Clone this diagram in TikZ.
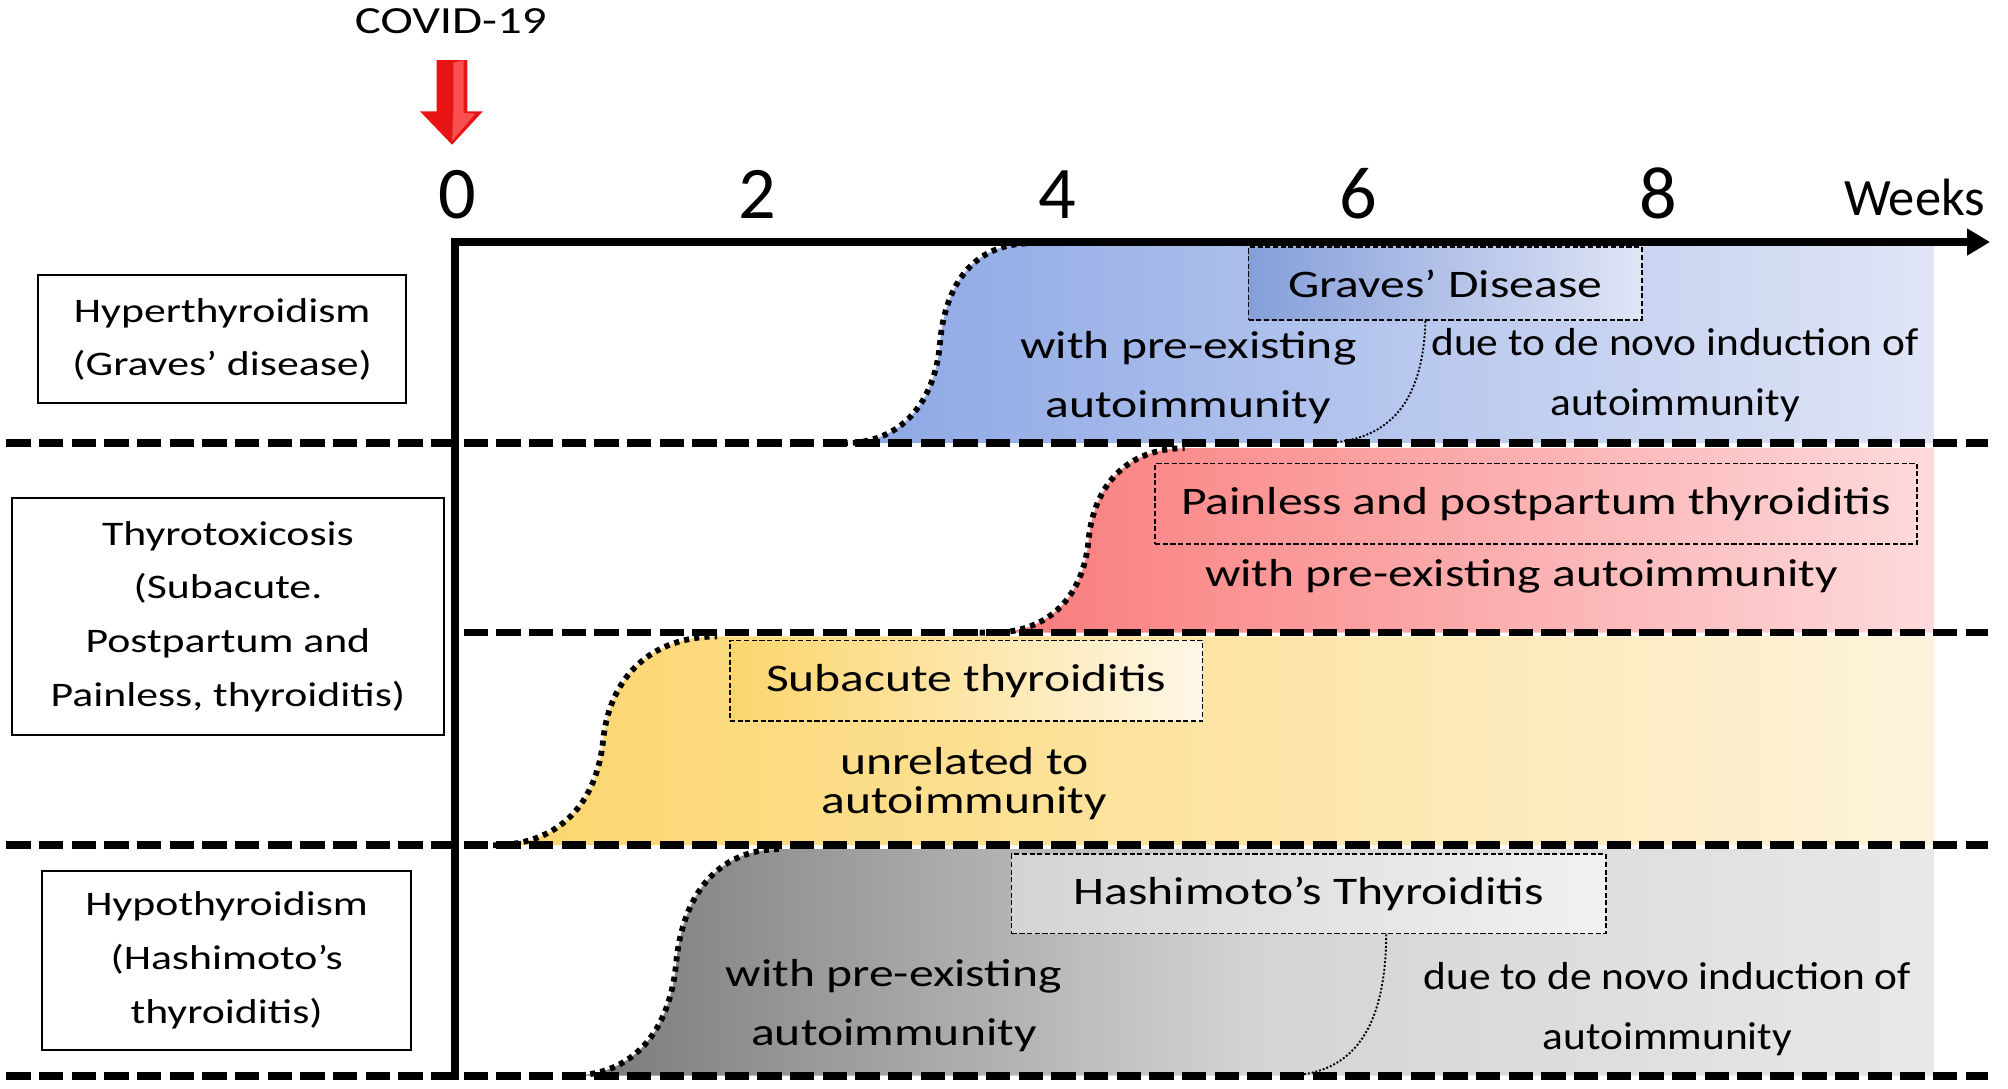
\documentclass[tikz,border=0pt]{standalone}
\usepackage{fontspec}
\setmainfont{Carlito}
\newfontfamily\wide[FakeStretch=1.27]{Carlito}
\newfontfamily\narrow[FakeStretch=1.11]{Carlito}
\usetikzlibrary{arrows.meta,calc}

\definecolor{bluel}{RGB}{140,167,229}\definecolor{bluer}{RGB}{224,229,246}
\definecolor{redl}{RGB}{250,122,122}\definecolor{redr}{RGB}{253,218,220}
\definecolor{yell}{RGB}{252,213,108}\definecolor{yelr}{RGB}{253,243,220}
\definecolor{grayl}{RGB}{122,119,119}\definecolor{graym}{RGB}{212,212,212}\definecolor{grayr}{RGB}{232,232,232}
\definecolor{covidred}{RGB}{232,20,20}\definecolor{covidlight}{RGB}{248,80,80}

\begin{document}
\begin{tikzpicture}[x=1pt,y=-1pt,
  sepline/.style={line width=6pt,dash pattern=on 19pt off 6.5pt},
  onset/.style={line width=4.5pt,dash pattern=on 4pt off 4pt},
  split/.style={line width=1.5pt,dash pattern=on 1.5pt off 1.5pt},
  catbox/.style={draw,line width=1.6pt,align=center,inner sep=0pt,font=\wide\fontsize{26.9}{42}\selectfont},
  typebox/.style={draw,line width=1.2pt,dash pattern=on 4pt off 2pt,inner sep=0pt,font=\wide\fontsize{30.5}{36}\selectfont},
  note/.style={align=center,inner sep=0pt,font=\wide\fontsize{30.5}{46}\selectfont},
  novo/.style={align=center,inner sep=0pt,font=\narrow\fontsize{30.5}{47}\selectfont},
  weeklbl/.style={anchor=base,inner sep=0pt,font=\fontsize{58}{60}\selectfont}]
\useasboundingbox(0,0)rectangle(1568,850);

% coloured onsets
\shade[left color=bluel,right color=bluer](660,346)..controls(703,346)and(730,315)..(734,268)..controls(738,221)and(761,190)..(805,190)--(1510,190)--(1510,346)--cycle;
\shade[left color=redl,right color=redr](775,494)..controls(820,494)and(846,465)..(850,422)..controls(854,379)and(880,350)..(925,350)--(1510,350)--(1510,494)--cycle;
\shade[left color=yell,right color=yelr](385,660)..controls(437,660)and(466,627)..(471,578)..controls(476,529)and(508,497)..(560,497)--(1510,497)--(1510,660)--cycle;
\shade[left color=grayl,right color=grayr,middle color=graym](445,840)..controls(495,840)and(523,805)..(528,752)..controls(533,699)and(560,663)..(610,663)--(1510,663)--(1510,840)--cycle;

\draw[sepline](5,346)--(1552,346);\draw[sepline](362,494)--(1552,494);
\draw[sepline](5,660)--(1552,660);\draw[sepline](5,840)--(1552,840);

\draw[line width=6pt,-{Triangle[length=18pt,width=20pt]}](355.5,843)--(355.5,189)--(1554,189);

\draw[onset](650,346)--(660,346)..controls(703,346)and(730,315)..(734,268)..controls(738,221)and(761,190)..(805,190);
\draw[onset](765,494)--(775,494)..controls(820,494)and(846,465)..(850,422)..controls(854,379)and(880,350)..(925,350);
\draw[onset](385,660)..controls(437,660)and(466,627)..(471,578)..controls(476,529)and(508,497)..(560,497);
\draw[onset](445,840)..controls(495,840)and(523,805)..(528,752)..controls(533,699)and(560,663)..(610,663);

\node[catbox,minimum width=287,minimum height=100](hyper)at(173.5,265){Hyperthyroidism\\(Graves’ disease)};
\node[catbox,minimum width=338,minimum height=185](toxic)at(178,481.5){Thyrotoxicosis\\(Subacute.\\Postpartum and\\Painless, thyroiditis)};
\node[catbox,minimum width=288,minimum height=140](hypo)at(177,750){Hypothyroidism\\(Hashimoto’s\\thyroiditis)};

\node[typebox,minimum width=307,minimum height=57,left color=bluel!95!black,right color=bluer](graves)at(1128.5,221.5){Graves’ Disease};
\node[typebox,minimum width=595,minimum height=63](painless)at(1199.5,393.5){Painless and postpartum thyroiditis};
\node[typebox,minimum width=369,minimum height=63,left color=yell,right color=yelr!70!white](subacute)at(754.5,531.5){Subacute thyroiditis};
\node[typebox,minimum width=464,minimum height=62,left color=graym,right color=grayr!60!white](hashi)at(1022,698){Hashimoto’s Thyroiditis};

\draw[split]($(graves.south west)!.45!(graves.south east)$)..controls(1111,320)and(1080,344)..(1035,346);
\draw[split]($(hashi.south west)!.63!(hashi.south east)$)..controls(1082,812)and(1050,839)..(1005,840);

\node[note](gpre)at(928,295){with pre-existing\\autoimmunity};
\node[novo](gnovo)at(1308,293){due to de novo induction of\\autoimmunity};
\node[note](ppre)at(1188,450){with pre-existing autoimmunity};
\node[note,font=\wide\fontsize{30.5}{30}\selectfont](sunrel)at(753,612){unrelated to\\autoimmunity};
\node[note](hpre)at(698,785){with pre-existing\\autoimmunity};
\node[novo](hnovo)at(1302,788){due to de novo induction of\\autoimmunity};

% week scale
\foreach \w in {0,2,4,6,8}\node[weeklbl](t\w)at(357+117.25*\w,171){\w};
\node[anchor=base,inner sep=0pt,font=\fontsize{41}{44}\selectfont](weeks)at(1495,168){Weeks};

\node[anchor=base,inner sep=0pt,font=\wide\fontsize{30}{32}\selectfont](covid)at(352,26){COVID-19};
\fill[covidred](341,47)--(365,47)--(365,87)--(377,87)--(353,113)--(328,87)--(341,87)--cycle;
\fill[covidlight](354,49)--(362,47)--(362,88)--(371,89)--(353,110)--(354,88)--cycle;
\end{tikzpicture}
\end{document}
